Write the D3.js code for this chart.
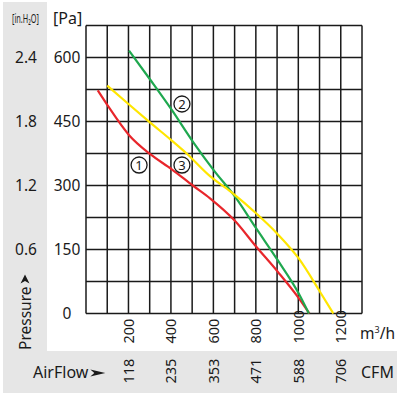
<!DOCTYPE html>
<html><head><meta charset="utf-8">
<script src="https://cdn.jsdelivr.net/npm/d3@7"></script>
<style>body{margin:0;background:#fff}svg{display:block}text{font-family:"Noto Sans",sans-serif;fill:#1a1a1a}</style>
</head><body>
<svg id="c" width="401" height="398"></svg>
<script>
// ---- data ----
const flowTicks = [200, 400, 600, 800, 1000, 1200];           // m³/h
const cfmTicks  = ["118", "235", "353", "471", "588", "706"];  // CFM
const paTicks   = [0, 150, 300, 450, 600];                      // Pa
const inh2oTicks = ["", "0.6", "1.2", "1.8", "2.4"];            // in.H2O
const curve1 = [[55,523],[100,489],[203,418],[301,374],[404,338],[503,300],[584,270],[698,219],[801,157],[903,98],[1002,36],[1052,0]];
const curve2 = [[203,616],[301,549],[404,477],[503,403],[603,335],[702,274],[801,200],[903,125],[1002,47],[1050,0]];
const curve3 = [[100,534],[200,491],[301,448],[400,407],[474,375],[584,322],[683,285],[801,235],[903,186],[1002,129],[1102,51],[1165,0]];
const curveLabels = [["1",250,348],["2",452,491],["3",452,348]];

const svg = d3.select("#c");
const x = d3.scaleLinear().domain([0,1300]).range([86,362]);
const y = d3.scaleLinear().domain([0,675]).range([313.5,25.5]);

// gray panels
svg.append("rect").attr("x",3).attr("y",2).attr("width",44).attr("height",350).attr("fill","#e6e6e6");
svg.append("rect").attr("x",3).attr("y",351).attr("width",394).attr("height",42).attr("fill","#e6e6e6");

// grid
const g = svg.append("g");
g.selectAll("line.v").data(d3.range(0,1301,100)).join("line")
  .attr("x1",d=>x(d)).attr("x2",d=>x(d)).attr("y1",y(0)).attr("y2",y(675))
  .attr("stroke","#1a1a1a").attr("stroke-width",1.5);
g.selectAll("line.h").data(d3.range(0,676,75)).join("line")
  .attr("y1",d=>y(d)).attr("y2",d=>y(d)).attr("x1",x(0)).attr("x2",x(1300))
  .attr("stroke","#1a1a1a").attr("stroke-width",1.5);

// curves
const line = d3.line().x(d=>x(d[0])).y(d=>y(d[1])).curve(d3.curveMonotoneX);
[[curve1,"#e8262b"],[curve2,"#1fa84f"],[curve3,"#ffe600"]].forEach(([d,c])=>{
  svg.append("path").datum(d).attr("d",line).attr("fill","none").attr("stroke",c).attr("stroke-width",2.2);
});

// circled labels
curveLabels.forEach(([t,vx,vy])=>{
  svg.append("circle").attr("cx",x(vx)).attr("cy",y(vy)).attr("r",8).attr("fill","#fff").attr("stroke","#1a1a1a").attr("stroke-width",1.3);
  svg.append("text").attr("x",x(vx)).attr("y",y(vy)).attr("dy","0.36em").attr("text-anchor","middle").attr("font-size",13).text(t);
});

// y axis labels
svg.selectAll("text.pa").data(paTicks).join("text").attr("class","pa")
  .attr("x",67).attr("y",d=>y(d)).attr("dy","0.36em").attr("text-anchor","middle").attr("font-size",15.5).text(d=>d);
svg.selectAll("text.inh").data(paTicks).join("text").attr("class","inh")
  .attr("x",26).attr("y",d=>y(d)).attr("dy","0.36em").attr("text-anchor","middle").attr("font-size",15.5).text((d,i)=>inh2oTicks[i]);
svg.append("text").attr("x",53).attr("y",24).attr("font-size",16).text("[Pa]");
const ih = svg.append("text").attr("font-size",13).text("[in.H₂O]");
const ihLen = ih.node().getComputedTextLength();
ih.attr("transform",`translate(12,23) scale(${27/ihLen},1)`);

// Pressure label (rotated)
const pr = svg.append("text").attr("transform","translate(25,350) rotate(-90)").attr("dy","0.36em").attr("font-size",15.5).text("Pressure");
const prLen = pr.node().getComputedTextLength();
const ptip = 350 - prLen - 12;
svg.append("path").attr("d",`M25,${ptip} L29.5,${ptip+9} L25,${ptip+6.5} L20.5,${ptip+9} Z`).attr("fill","#1a1a1a");

// x axis labels
svg.selectAll("text.fl").data(flowTicks).join("text").attr("class","fl")
  .attr("transform",d=>`translate(${x(d)},343.5) rotate(-90)`).attr("dy","0.36em").attr("font-size",14.5).text(d=>d);
svg.selectAll("text.cfm").data(flowTicks).join("text").attr("class","cfm")
  .attr("transform",d=>`translate(${x(d)},383.5) rotate(-90)`).attr("dy","0.36em").attr("font-size",14.5).text((d,i)=>cfmTicks[i]);
const m3 = svg.append("text").attr("x",360).attr("y",338.5).attr("font-size",15.5);
m3.append("tspan").text("m");
m3.append("tspan").attr("dy",-6).attr("font-size",9).text("3");
m3.append("tspan").attr("dy",6).text("/h");
svg.append("text").attr("x",361).attr("y",378).attr("font-size",16).text("CFM");

const af = svg.append("text").attr("x",33).attr("y",378).attr("font-size",16).text("AirFlow");
const afEnd = 33 + af.node().getComputedTextLength() + 2;
svg.append("path").attr("d",`M${afEnd},369.5 L${afEnd+15},373 L${afEnd},376.5 L${afEnd+4},373 Z`).attr("fill","#1a1a1a");
</script>
</body></html>
